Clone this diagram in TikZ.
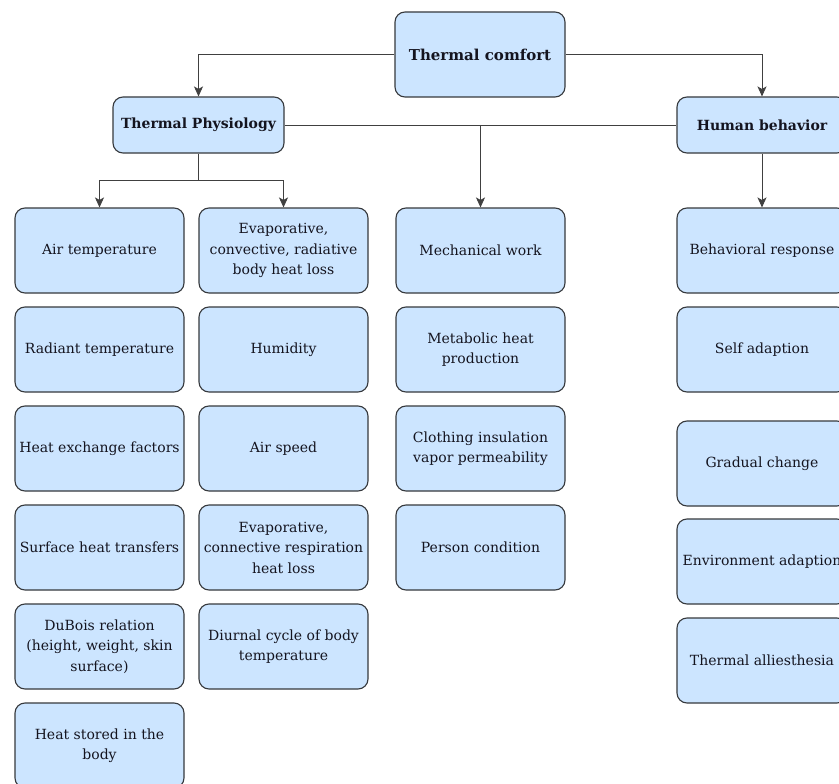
\documentclass[tikz,border=0pt]{standalone}
\usepackage{fontspec}
\setmainfont{DejaVu Serif}
\usetikzlibrary{arrows.meta}
\definecolor{boxfill}{HTML}{CCE5FF}
\definecolor{boxline}{HTML}{36393D}
\definecolor{txt}{HTML}{14141F}
\definecolor{conncol}{HTML}{404040}
\tikzset{
 box/.style={draw=boxline, fill=boxfill, line width=1.1pt, rounded corners=10pt,
   minimum width=169pt, minimum height=85pt, align=center, text=txt,
   font=\fontsize{14}{20.5}\selectfont, inner sep=2pt},
 head/.style={box, minimum height=56pt, font=\fontsize{14}{20.5}\selectfont\bfseries},
 conn/.style={draw=conncol, line width=0.9pt, -{Stealth[length=10pt,width=9pt,inset=2.5pt]}},
 plainline/.style={draw=conncol, line width=0.9pt}
}
\begin{document}
\begin{tikzpicture}[x=1pt,y=-1pt]
\clip (0,0) rectangle (839,784);
\fill[white] (0,0) rectangle (839,784);
% headers
\node[head, minimum height=85pt, minimum width=170pt, font=\fontsize{15}{20.5}\selectfont\bfseries] (tc) at (480,54.5) {Thermal comfort};
\node[head, minimum width=171pt] (tp) at (198.5,125) {Thermal Physiology};
\node[head, minimum width=170pt] (hb) at (762,125) {Human behavior};
% column 1
\node[box] (a1) at (99.5,250.5) {Air temperature};
\node[box] (a2) at (99.5,349.5) {Radiant temperature};
\node[box] (a3) at (99.5,448.5) {Heat exchange factors};
\node[box] (a4) at (99.5,547.5) {Surface heat transfers};
\node[box] (a5) at (99.5,646.5) {DuBois relation\\(height, weight, skin\\surface)};
\node[box] (a6) at (99.5,745.5) {Heat stored in the\\body};
% column 2
\node[box] (b1) at (283.5,250.5) {Evaporative,\\convective, radiative\\body heat loss};
\node[box] (b2) at (283.5,349.5) {Humidity};
\node[box] (b3) at (283.5,448.5) {Air speed};
\node[box] (b4) at (283.5,547.5) {Evaporative,\\connective respiration\\heat loss};
\node[box] (b5) at (283.5,646.5) {Diurnal cycle of body\\temperature};
% column 3
\node[box] (c1) at (480.5,250.5) {Mechanical work};
\node[box] (c2) at (480.5,349.5) {Metabolic heat\\production};
\node[box] (c3) at (480.5,448.5) {Clothing insulation\\vapor permeability};
\node[box] (c4) at (480.5,547.5) {Person condition};
% column 4
\node[box, minimum width=170pt] (d1) at (762,250.5) {Behavioral response};
\node[box, minimum width=170pt] (d2) at (762,349.5) {Self adaption};
\node[box, minimum width=170pt] (d3) at (762,463.5) {Gradual change};
\node[box, minimum width=170pt] (d4) at (762,561.5) {Environment adaption};
\node[box, minimum width=170pt] (d5) at (762,660.5) {Thermal alliesthesia};
% connectors
\draw[conn] (tc.west) -| (tp.north);
\draw[conn] (tc.east) -| (hb.north);
\draw[plainline] (tp.east) -- (hb.west);
\coordinate (mid) at (c1.north |- tp.east);
\draw[conn] (mid) -- (c1.north);
\coordinate (split) at (198.5,180);
\draw[plainline] (tp.south) -- (split);
\draw[conn] (split) -| (a1.north);
\draw[conn] (split) -| (b1.north);
\draw[conn] (hb.south) -- (d1.north);
\end{tikzpicture}
\end{document}
